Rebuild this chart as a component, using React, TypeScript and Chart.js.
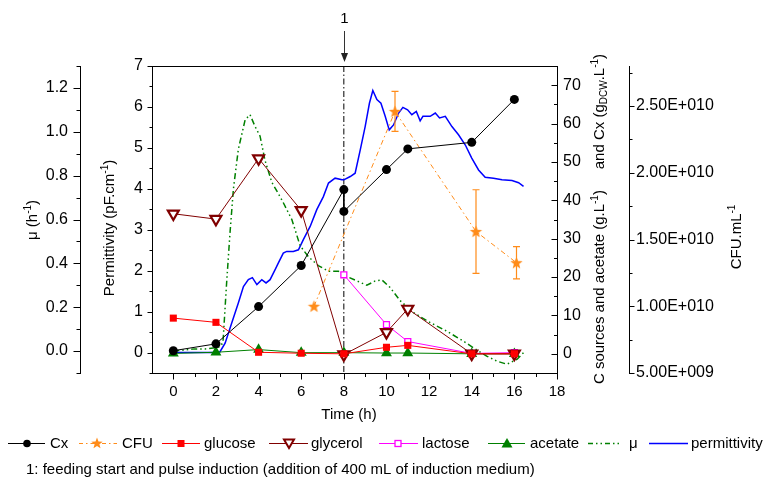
import React, { useEffect, useRef } from 'react';
import { Chart, registerables } from 'chart.js';

Chart.register(...registerables);

// ---------------- data ----------------
const sampleTimes = [0, 2, 4, 6, 8, 10, 11, 14, 16];
const cxTimes = [0, 2, 4, 6, 8, 8, 10, 11, 14, 16];
const cxValues = [0.8, 2.6, 12.3, 23.0, 42.8, 37.1, 48.0, 53.4, 55.1, 66.3];
const glucoseValues = [9.3, 8.2, 0.4, 0.15, 0.0, 1.7, 2.2, 0.0, 0.0];
const glycerolValues = [36.5, 35.1, 50.9, 37.4, -0.2, 5.6, 11.7, 0.0, 0.0];
const acetateValues = [0.1, 0.4, 1.1, 0.3, 0.3, 0.2, 0.2, 0.0, 0.0];
const lactoseTimes = [8, 10, 11, 14, 16];
const lactoseValues = [20.6, 7.6, 3.2, 0.1, 0.3];
const cfuTimes = [6.6, 10.4, 14.2, 16.1];
const cfuValues = [1.0e10, 2.46e10, 1.56e10, 1.326e10];
const cfuErrors = [0, 1.5e9, 3.13e9, 1.21e9];
const muTimes = [0, 0.5, 1, 1.5, 2, 2.2, 2.33, 2.5, 2.66, 2.82, 3.05, 3.37, 3.6, 3.83, 4.07, 4.3, 4.62, 5.09, 5.56, 5.95, 6.34, 6.8, 7.28, 7.75, 8.14, 8.61, 9.08, 9.47, 9.78, 10.17, 10.64, 11.27, 12.05, 12.84, 13.6, 14.08, 14.7, 15.18, 15.65, 16.12, 16.43];
const muValues = [0, 0.005, 0.01, 0.01, 0.015, 0.02, 0.04, 0.31, 0.54, 0.74, 0.92, 1.055, 1.078, 1.025, 0.98, 0.87, 0.77, 0.69, 0.6, 0.48, 0.43, 0.39, 0.364, 0.364, 0.34, 0.32, 0.3, 0.32, 0.325, 0.29, 0.23, 0.175, 0.13, 0.09, 0.046, 0.015, -0.023, -0.046, -0.06, -0.038, -0.007];
const permTimes = [0, 1, 2, 2.19, 2.43, 2.74, 3.05, 3.29, 3.52, 3.71, 3.92, 4.15, 4.35, 4.54, 4.77, 4.93, 5.16, 5.32, 5.63, 5.87, 6.1, 6.42, 6.73, 7.04, 7.28, 7.59, 7.91, 8.0, 8.3, 8.53, 8.77, 9.0, 9.2, 9.36, 9.55, 9.74, 9.94, 10.13, 10.33, 10.57, 10.77, 10.99, 11.19, 11.4, 11.58, 11.71, 12.05, 12.29, 12.49, 12.76, 13.07, 13.38, 13.7, 14.0, 14.32, 14.63, 15.02, 15.42, 15.89, 16.2, 16.43];
const permValues = [0, 0, 0, 0.02, 0.23, 0.72, 1.21, 1.61, 1.78, 1.83, 1.66, 1.78, 1.7, 1.78, 2.02, 2.19, 2.43, 2.47, 2.47, 2.51, 2.76, 3.08, 3.49, 3.81, 4.14, 4.26, 4.22, 4.22, 4.3, 4.38, 4.95, 5.52, 6.09, 6.4, 6.18, 6.09, 5.77, 5.44, 5.56, 5.85, 5.99, 5.93, 5.81, 5.89, 5.66, 5.77, 5.77, 5.85, 5.73, 5.77, 5.52, 5.32, 5.07, 4.75, 4.46, 4.28, 4.26, 4.22, 4.2, 4.15, 4.06];
const feedingTime = 8;

// ---------------- ticks ----------------
const xTicks = [0, 2, 4, 6, 8, 10, 12, 14, 16, 18];
const xMinorTicks = [1, 3, 5, 7, 9, 11, 13, 15, 17];
const permTicks = [0, 1, 2, 3, 4, 5, 6, 7];
const permMinorTicks = [-0.5, 0.5, 1.5, 2.5, 3.5, 4.5, 5.5, 6.5];
const muTicks = [0, 0.2, 0.4, 0.6, 0.8, 1.0, 1.2];
const muMinorTicks = [-0.1, 0.1, 0.3, 0.5, 0.7, 0.9, 1.1, 1.3];
const cTicks = [0, 10, 20, 30, 40, 50, 60, 70];
const cMinorTicks = [-5, 5, 15, 25, 35, 45, 55, 65];
const cfuTicks = [5e9, 1e10, 1.5e10, 2e10, 2.5e10];
const cfuMinorTicks = [7.5e9, 1.25e10, 1.75e10, 2.25e10, 2.75e10];

const FONT = "'Liberation Sans', Arial, Helvetica, sans-serif";
const f = (s: number) => `${s}px ${FONT}`;

const C_BLACK = '#000000';
const C_ORANGE = '#ff8c1a';
const C_RED = '#ff0000';
const C_DKRED = '#800000';
const C_MAG = '#ff00ff';
const C_GREEN = '#008000';
const C_BLUE = '#0000ff';

const zip = (xs: number[], ys: number[]) => xs.map((x, i) => ({ x, y: ys[i] }));

function makeStar(r: number, color: string) {
  const c = document.createElement('canvas');
  const s = Math.ceil(r * 2 + 2);
  c.width = s;
  c.height = s;
  const g = c.getContext('2d')!;
  g.fillStyle = color;
  starPath(g, s / 2, s / 2 + 0.5, r);
  g.fill();
  return c;
}
function starPath(g: CanvasRenderingContext2D, cx: number, cy: number, r: number) {
  g.beginPath();
  for (let i = 0; i < 10; i++) {
    const a = -Math.PI / 2 + (i * Math.PI) / 5;
    const rr = i % 2 ? r * 0.42 : r;
    const px = cx + Math.cos(a) * rr;
    const py = cy + Math.sin(a) * rr;
    if (i === 0) g.moveTo(px, py);
    else g.lineTo(px, py);
  }
  g.closePath();
}

type Part = { t: string; s?: 'sup' | 'sub' };
function drawRich(ctx: CanvasRenderingContext2D, parts: Part[], cx: number, cy: number, rotate: boolean, size = 15) {
  ctx.save();
  ctx.translate(cx, cy);
  if (rotate) ctx.rotate(-Math.PI / 2);
  const fontFor = (p: Part) => (p.s ? f(Math.round(size * 0.67)) : f(size));
  let total = 0;
  for (const p of parts) {
    ctx.font = fontFor(p);
    total += ctx.measureText(p.t).width;
  }
  let x = -total / 2;
  ctx.textBaseline = 'middle';
  ctx.textAlign = 'left';
  ctx.fillStyle = '#000';
  for (const p of parts) {
    ctx.font = fontFor(p);
    const dy = p.s === 'sup' ? -5 : p.s === 'sub' ? 4 : 0;
    ctx.fillText(p.t, x, dy);
    x += ctx.measureText(p.t).width;
  }
  ctx.restore();
}

function fmtCfu(v: number) {
  const exp = Math.floor(Math.log10(v) + 1e-9);
  const m = v / Math.pow(10, exp);
  return `${m.toFixed(2)}E+${String(exp).padStart(3, '0')}`;
}

const overlayPlugin = {
  id: 'overlay',
  beforeDatasetsDraw(chart: any) {
    const { ctx, chartArea, scales } = chart;
    const x = scales.x.getPixelForValue(feedingTime);
    ctx.save();
    ctx.strokeStyle = '#000';
    ctx.lineWidth = 1;
    ctx.setLineDash([6, 2.5, 1.5, 2.5]);
    ctx.beginPath();
    ctx.moveTo(x, chartArea.top);
    ctx.lineTo(x, chartArea.bottom);
    ctx.stroke();
    ctx.restore();
  },
  afterDatasetsDraw(chart: any) {
    const { ctx, scales } = chart;
    ctx.save();
    ctx.strokeStyle = C_ORANGE;
    ctx.lineWidth = 1.2;
    cfuTimes.forEach((t, i) => {
      const e = cfuErrors[i];
      if (!e) return;
      const px = scales.x.getPixelForValue(t);
      const y1 = scales.yCFU.getPixelForValue(cfuValues[i] + e);
      const y2 = scales.yCFU.getPixelForValue(cfuValues[i] - e);
      ctx.beginPath();
      ctx.moveTo(px, y1);
      ctx.lineTo(px, y2);
      ctx.moveTo(px - 3.5, y1);
      ctx.lineTo(px + 3.5, y1);
      ctx.moveTo(px - 3.5, y2);
      ctx.lineTo(px + 3.5, y2);
      ctx.stroke();
    });
    ctx.restore();
  },
  afterDraw(chart: any) {
    const { ctx, chartArea, scales } = chart;
    ctx.save();
    ctx.strokeStyle = '#000';
    ctx.lineWidth = 1;
    ctx.setLineDash([]);
    // top frame
    ctx.beginPath();
    ctx.moveTo(chartArea.left, Math.round(chartArea.top) + 0.5);
    ctx.lineTo(chartArea.right, Math.round(chartArea.top) + 0.5);
    ctx.stroke();

    const vTicks = (scale: any, vals: number[], len: number, dir: number, lineX: number) => {
      ctx.beginPath();
      for (const v of vals) {
        const y = Math.round(scale.getPixelForValue(v)) + 0.5;
        ctx.moveTo(lineX, y);
        ctx.lineTo(lineX + dir * len, y);
      }
      ctx.stroke();
    };
    const mu = scales.yMu, pm = scales.yP, cc = scales.yC, cf = scales.yCFU, xs = scales.x;
    vTicks(mu, muTicks, 7, -1, Math.round(mu.right) + 0.5);
    vTicks(mu, muMinorTicks, 4, -1, Math.round(mu.right) + 0.5);
    vTicks(pm, permTicks, 5, -1, Math.round(pm.right) + 0.5);
    vTicks(pm, permMinorTicks, 3, -1, Math.round(pm.right) + 0.5);
    vTicks(cc, cTicks, 6, -1, Math.round(cc.left) + 0.5);
    vTicks(cc, cMinorTicks, 3.5, -1, Math.round(cc.left) + 0.5);
    vTicks(cf, cfuTicks, 5, 1, Math.round(cf.left) + 0.5);
    vTicks(cf, cfuMinorTicks, 3, 1, Math.round(cf.left) + 0.5);
    const yb = Math.round(xs.top) + 0.5;
    ctx.beginPath();
    for (const v of xTicks) {
      const px = Math.round(xs.getPixelForValue(v)) + 0.5;
      ctx.moveTo(px, yb);
      ctx.lineTo(px, yb + 6);
    }
    for (const v of xMinorTicks) {
      const px = Math.round(xs.getPixelForValue(v)) + 0.5;
      ctx.moveTo(px, yb);
      ctx.lineTo(px, yb + 3.5);
    }
    ctx.stroke();

    // axis titles
    drawRich(ctx, [{ t: 'μ (h' }, { t: '-1', s: 'sup' }, { t: ')' }], 33, 220, true);
    drawRich(ctx, [{ t: 'Permittivity (pF.cm' }, { t: '-1', s: 'sup' }, { t: ')' }], 110, 228, true);
    drawRich(
      ctx,
      [
        { t: 'C sources and acetate (g.L' },
        { t: '-1', s: 'sup' },
        { t: ')     and Cx (g' },
        { t: 'DCW', s: 'sub' },
        { t: '.L' },
        { t: '-1', s: 'sup' },
        { t: ')' },
      ],
      600,
      219,
      true
    );
    drawRich(ctx, [{ t: 'CFU.mL' }, { t: '-1', s: 'sup' }], 737, 237, true);
    drawRich(ctx, [{ t: 'Time (h)' }], 349, 415, false);

    // feeding marker "1" + arrow
    const fx = Math.round(xs.getPixelForValue(feedingTime)) + 0.5;
    ctx.fillStyle = '#000';
    ctx.font = f(15);
    ctx.textAlign = 'center';
    ctx.textBaseline = 'middle';
    ctx.fillText('1', fx, 19);
    ctx.strokeStyle = '#333';
    ctx.beginPath();
    ctx.moveTo(fx, 31);
    ctx.lineTo(fx, 56);
    ctx.stroke();
    ctx.fillStyle = '#222';
    ctx.beginPath();
    ctx.moveTo(fx - 3.5, 53);
    ctx.lineTo(fx + 3.5, 53);
    ctx.lineTo(fx, 62);
    ctx.closePath();
    ctx.fill();

    // legend
    const ly = 443;
    const items = [
      { label: 'Cx', l0: 8, l1: 45, mx: 27, tx: 50, color: C_BLACK, dash: [] as number[], mk: 'circle' },
      { label: 'CFU', l0: 79, l1: 117, mx: 97, tx: 122, color: C_ORANGE, dash: [4, 3, 1.5, 3], mk: 'star' },
      { label: 'glucose', l0: 162, l1: 200, mx: 181, tx: 204, color: C_RED, dash: [], mk: 'square' },
      { label: 'glycerol', l0: 269, l1: 308, mx: 289, tx: 311, color: C_DKRED, dash: [], mk: 'tri-down' },
      { label: 'lactose', l0: 379, l1: 418, mx: 398, tx: 422, color: C_MAG, dash: [], mk: 'osquare' },
      { label: 'acetate', l0: 488, l1: 525, mx: 507, tx: 530, color: C_GREEN, dash: [], mk: 'tri' },
      { label: 'μ', l0: 588, l1: 619, mx: -1, tx: 629, color: C_GREEN, dash: [5, 3, 1.5, 3, 1.5, 3], mk: '' },
      { label: 'permittivity', l0: 649, l1: 688, mx: -1, tx: 691, color: C_BLUE, dash: [], mk: '' },
    ];
    for (const it of items) {
      ctx.save();
      ctx.strokeStyle = it.color;
      ctx.lineWidth = it.label === 'permittivity' || it.label === 'μ' ? 1.6 : 1.2;
      ctx.setLineDash(it.dash);
      ctx.beginPath();
      ctx.moveTo(it.l0, ly + 0.5);
      ctx.lineTo(it.l1, ly + 0.5);
      ctx.stroke();
      ctx.setLineDash([]);
      const mx = it.mx, my = ly + 0.5;
      ctx.fillStyle = it.color;
      if (it.mk === 'circle') {
        ctx.beginPath();
        ctx.arc(mx, my, 3.8, 0, Math.PI * 2);
        ctx.fill();
      } else if (it.mk === 'star') {
        starPath(ctx, mx, my, 6);
        ctx.fill();
      } else if (it.mk === 'square') {
        ctx.fillRect(mx - 3.5, my - 3.5, 7, 7);
      } else if (it.mk === 'osquare') {
        ctx.fillStyle = '#fff';
        ctx.fillRect(mx - 3, my - 3, 6, 6);
        ctx.lineWidth = 1.3;
        ctx.strokeRect(mx - 3, my - 3, 6, 6);
      } else if (it.mk === 'tri-down') {
        ctx.fillStyle = '#fff';
        ctx.lineWidth = 2;
        ctx.beginPath();
        ctx.moveTo(mx - 5, my - 4);
        ctx.lineTo(mx + 5, my - 4);
        ctx.lineTo(mx, my + 4.5);
        ctx.closePath();
        ctx.fill();
        ctx.stroke();
      } else if (it.mk === 'tri') {
        ctx.beginPath();
        ctx.moveTo(mx - 5.5, my + 4);
        ctx.lineTo(mx + 5.5, my + 4);
        ctx.lineTo(mx, my - 5.5);
        ctx.closePath();
        ctx.fill();
      }
      ctx.fillStyle = '#000';
      ctx.font = f(15);
      ctx.textAlign = 'left';
      ctx.textBaseline = 'middle';
      ctx.fillText(it.label, it.tx, ly + 1);
      ctx.restore();
    }
    ctx.fillStyle = '#000';
    ctx.font = f(15);
    ctx.textAlign = 'left';
    ctx.textBaseline = 'middle';
    ctx.fillText('1: feeding start and pulse induction (addition of 400 mL of induction medium)', 26, 470);
    ctx.restore();
  },
};

function axisBase(extra: any) {
  return {
    type: 'linear',
    grid: { display: false, drawTicks: true, tickLength: 5 },
    border: { display: true, color: '#000', width: 1 },
    ...extra,
  };
}

export default function App() {
  const ref = useRef<HTMLCanvasElement>(null);
  useEffect(() => {
    const canvas = ref.current;
    if (!canvas) return;
    const star = makeStar(6.5, C_ORANGE);
    const tickFont = { family: FONT, size: 16 };
    const chart = new Chart(canvas, {
      type: 'line',
      data: {
        datasets: [
          {
            label: 'Cx',
            data: zip(cxTimes, cxValues),
            yAxisID: 'yC',
            borderColor: C_BLACK,
            backgroundColor: C_BLACK,
            borderWidth: 1,
            pointStyle: 'circle',
            pointRadius: 4.5,
            pointBorderWidth: 0,
          },
          {
            label: 'CFU',
            data: zip(cfuTimes, cfuValues),
            yAxisID: 'yCFU',
            borderColor: C_ORANGE,
            backgroundColor: C_ORANGE,
            borderWidth: 1,
            borderDash: [5, 3, 1.5, 3],
            pointStyle: star as any,
            pointRadius: 6,
          },
          {
            label: 'glucose',
            data: zip(sampleTimes, glucoseValues),
            yAxisID: 'yC',
            borderColor: C_RED,
            backgroundColor: C_RED,
            borderWidth: 1,
            pointStyle: 'rect',
            pointRadius: 5,
            pointBorderWidth: 0,
          },
          {
            label: 'glycerol',
            data: zip(sampleTimes, glycerolValues),
            yAxisID: 'yC',
            borderColor: C_DKRED,
            backgroundColor: '#ffffff',
            borderWidth: 1,
            pointStyle: 'triangle',
            pointRotation: 180,
            pointRadius: 6.3,
            pointBorderWidth: 2.2,
          },
          {
            label: 'lactose',
            data: zip(lactoseTimes, lactoseValues),
            yAxisID: 'yC',
            borderColor: C_MAG,
            backgroundColor: '#ffffff',
            borderWidth: 1,
            pointStyle: 'rect',
            pointRadius: 4.2,
            pointBorderWidth: 1.3,
          },
          {
            label: 'acetate',
            data: zip(sampleTimes, acetateValues),
            yAxisID: 'yC',
            borderColor: C_GREEN,
            backgroundColor: C_GREEN,
            borderWidth: 1,
            pointStyle: 'triangle',
            pointRadius: 6.3,
            pointBorderWidth: 0,
          },
          {
            label: 'μ',
            data: zip(muTimes, muValues),
            yAxisID: 'yMu',
            borderColor: C_GREEN,
            borderWidth: 1.5,
            borderDash: [6, 3, 1.5, 3, 1.5, 3],
            pointRadius: 0,
          },
          {
            label: 'permittivity',
            data: zip(permTimes, permValues),
            yAxisID: 'yP',
            borderColor: C_BLUE,
            borderWidth: 1.5,
            pointRadius: 0,
          },
        ],
      } as any,
      options: {
        animation: false,
        responsive: false,
        events: [],
        devicePixelRatio: 1,
        layout: { padding: { top: 66, bottom: 55, left: 0, right: 0 } },
        plugins: { legend: { display: false }, tooltip: { enabled: false }, title: { display: false } },
        scales: {
          x: axisBase({
            position: 'bottom',
            min: -1,
            max: 18,
            grid: { display: false, drawTicks: true, tickLength: 6 },
            afterBuildTicks: (s: any) => {
              s.ticks = xTicks.map((v) => ({ value: v }));
            },
            afterFit: (s: any) => {
              s.height = 50;
            },
            ticks: { autoSkip: false, maxRotation: 0, padding: 4, color: '#000', font: { family: FONT, size: 15 }, callback: (v: any) => String(v) },
          }),
          yP: axisBase({
            position: 'left',
            min: -0.5,
            max: 7,
            grid: { display: false, drawTicks: true, tickLength: 5 },
            afterBuildTicks: (s: any) => {
              s.ticks = permTicks.map((v) => ({ value: v }));
            },
            afterFit: (s: any) => {
              s.width = 72;
            },
            ticks: { autoSkip: false, padding: 4, color: '#000', font: tickFont, callback: (v: any) => String(v) },
          }),
          yMu: axisBase({
            position: 'left',
            min: -0.1,
            max: 1.3,
            grid: { display: false, drawTicks: true, tickLength: 7 },
            afterBuildTicks: (s: any) => {
              s.ticks = muTicks.map((v) => ({ value: v }));
            },
            afterFit: (s: any) => {
              s.width = 80;
            },
            ticks: { autoSkip: false, padding: 5, color: '#000', font: tickFont, callback: (v: any) => Number(v).toFixed(1) },
          }),
          yC: axisBase({
            position: 'right',
            min: -5,
            max: 75,
            grid: { display: false, drawTicks: true, tickLength: 3 },
            afterBuildTicks: (s: any) => {
              s.ticks = cTicks.map((v) => ({ value: v }));
            },
            afterFit: (s: any) => {
              s.width = 72;
            },
            ticks: { autoSkip: false, padding: 3, color: '#000', font: tickFont, callback: (v: any) => String(v) },
          }),
          yCFU: axisBase({
            position: 'right',
            min: 5e9,
            max: 2.8e10,
            grid: { display: false, drawTicks: true, tickLength: 4 },
            afterBuildTicks: (s: any) => {
              s.ticks = cfuTicks.map((v) => ({ value: v }));
            },
            afterFit: (s: any) => {
              s.width = 134;
            },
            ticks: { autoSkip: false, padding: 3, color: '#000', font: tickFont, callback: (v: any) => fmtCfu(Number(v)) },
          }),
        },
      } as any,
      plugins: [overlayPlugin],
    });
    return () => chart.destroy();
  }, []);
  return (
    <div style={{ position: 'absolute', left: 0, top: 0, width: 763, height: 478, background: '#fff' }}>
      <canvas ref={ref} width={763} height={478} style={{ display: 'block', width: 763, height: 478 }} />
    </div>
  );
}
